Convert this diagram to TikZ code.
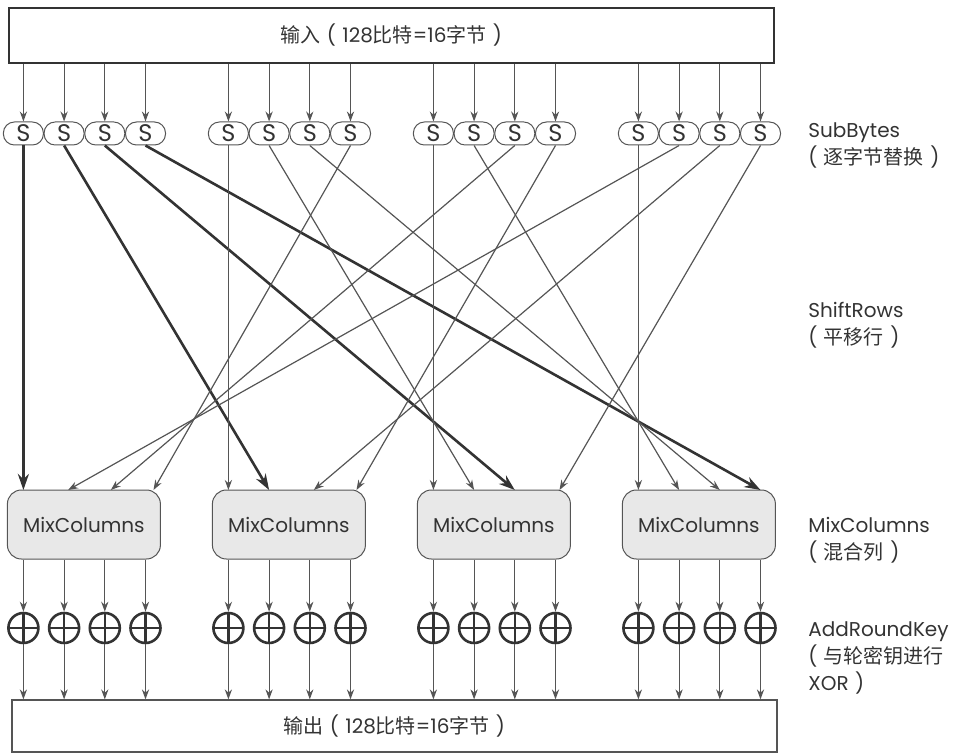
\documentclass[tikz,border=0pt]{standalone}
\usepackage{fontspec}
\setmainfont{Poppins}
\newfontfamily\cjk{Noto Sans CJK SC}
\usepackage{tikz}
\usetikzlibrary{arrows.meta,calc,positioning}
\definecolor{ink}{HTML}{333333}
\definecolor{linje}{HTML}{555555}
\newcommand{\openp}{(\hspace{.32em}}
\newcommand{\closep}{\hspace{.32em})}
\tikzset{
    >={Stealth[length=5pt,width=3.6pt]},
    sbox/.style={
           rectangle, rounded corners=5.5pt,
           draw=linje, line width=0.5pt,
           minimum width=20pt, minimum height=11.5pt,
           inner sep=0pt,
           font=\fontsize{12}{12}\selectfont, text=ink},
    mixbox/.style={
           rectangle, rounded corners=7pt,
           draw=linje, line width=0.5pt, fill=black!9,
           minimum width=76.5pt, minimum height=34.5pt,
           font=\fontsize{10}{10}\selectfont, text=ink},
    xorpkt/.style={
           circle, draw=ink, line width=1.3pt,
           minimum size=15pt, inner sep=0pt,
           path picture={\draw[ink, line width=1.1pt]
               (path picture bounding box.north) -- (path picture bounding box.south)
               (path picture bounding box.west) -- (path picture bounding box.east);}},
    iobox/.style={
           rectangle, minimum width=382.5pt,
           font=\fontsize{10}{10}\selectfont, text=ink},
    etiket/.style={
           anchor=north west, align=left, inner sep=0pt,
           font=\fontsize{10}{13.5}\selectfont, text=ink},
    pil/.style={
           ->, draw=linje, line width=0.6pt},
    tykpil/.style={
           -{Stealth[length=8pt,width=5.5pt]}, draw=ink, line width=1.3pt}
}

\begin{document}
\begin{tikzpicture}[x=0.5pt, y=-0.5pt]
    \useasboundingbox (0,0) rectangle (953,753);
    \node[iobox, draw=ink, line width=1.1pt, minimum height=27.5pt] (in) at (391.5,35.5)
        {{\cjk 输入}\hspace{.3em}\openp 128{\cjk 比特}=16{\cjk 字节}\closep};
    \node[iobox, draw=linje, line width=0.6pt, minimum height=26pt] (out) at (394.5,726)
        {{\cjk 输出}\hspace{.3em}\openp 128{\cjk 比特}=16{\cjk 字节}\closep};
    % one column of the state per group
    \foreach \c in {0,...,3} {
        \pgfmathsetmacro{\xa}{23.4+205*\c}
        \node[mixbox] (mc\c) at (\xa+60.5, 524.5) {MixColumns};
        \foreach \r in {0,...,3} {
            \pgfmathsetmacro{\xx}{\xa+40.7*\r}
            \pgfmathsetmacro{\dxx}{\c<\r ? 2+2*(\r-\c) : 0}
            \node[sbox] (s\c\r) at (\xx,133.5) {S};
            \node[xorpkt] (x\c\r) at (\xx,628) {};
            \coordinate (m\c\r) at (\xx+\dxx,490);
            \draw[pil] (in.south -| s\c\r) -- (s\c\r);
            \draw[pil] (mc\c.south -| x\c\r) -- (x\c\r);
            \draw[pil] (x\c\r) -- (out.north -| x\c\r);
        }
    }
    % ShiftRows
    \foreach \c in {0,...,3} {
        \foreach \r in {0,...,3} {
            \pgfmathtruncatemacro{\d}{mod(\c+\r,4)}
            \ifnum\c=0
                \draw[tykpil] (s\c\r.south) -- (m\d\r);
            \else
                \draw[pil] (s\c\r.south) -- (m\d\r);
            \fi
        }
    }
    \node[etiket] (subb) at (808,122) {SubBytes\\\openp{\cjk 逐字节替换}\closep};
    \node[etiket] (shift) at (808,302) {ShiftRows\\\openp{\cjk 平移行}\closep};
    \node[etiket] (mixc) at (808,517) {MixColumns\\\openp{\cjk 混合列}\closep};
    \node[etiket] (addk) at (808,621) {AddRoundKey\\\openp{\cjk 与轮密钥进行}\\XOR\closep};
\end{tikzpicture}
\end{document}
